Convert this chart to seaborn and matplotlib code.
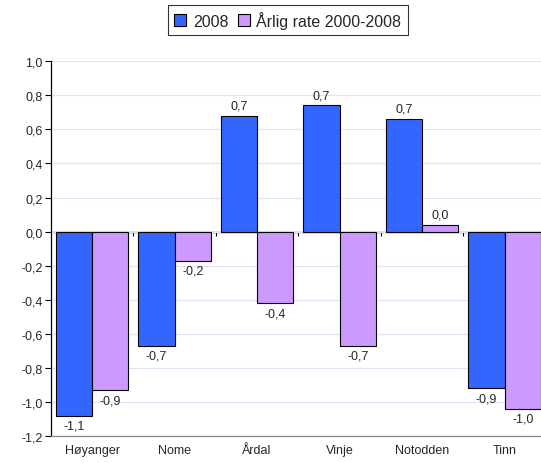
import matplotlib
matplotlib.use("Agg")
import matplotlib.pyplot as plt
import seaborn as sns
import pandas as pd
import numpy as np

# Data
steder = ["Høyanger", "Nome", "Årdal", "Vinje", "Notodden", "Tinn"]
v2008 = [-1.08, -0.67, 0.68, 0.74, 0.66, -0.92]
rate = [-0.93, -0.17, -0.42, -0.67, 0.04, -1.04]
serier = ["2008", "Årlig rate 2000-2008"]
yticks = [-1.2, -1.0, -0.8, -0.6, -0.4, -0.2, 0.0, 0.2, 0.4, 0.6, 0.8, 1.0]

df = pd.DataFrame({"Sted": steder, serier[0]: v2008, serier[1]: rate})
long = df.melt(id_vars="Sted", var_name="Serie", value_name="Verdi")

sns.set_style("white")
plt.rcParams["font.family"] = ["Liberation Sans", "DejaVu Sans"]

fig = plt.figure(figsize=(5.41, 4.64), dpi=100)
ax = fig.add_axes([0.094, 0.058, 0.915, 0.808])

sns.barplot(
    data=long, x="Sted", y="Verdi", hue="Serie", order=steder,
    palette=["#3366FF", "#CC99FF"], width=0.88, gap=0,
    edgecolor="black", linewidth=0.8, saturation=1, ax=ax, zorder=3,
)

def fmt(v):
    return f"{v:.1f}".replace(".", ",")

for cont, vals in zip(ax.containers, [v2008, rate]):
    ax.bar_label(cont, labels=[fmt(v) for v in vals], padding=3, fontsize=9)

ax.set_ylim(-1.2, 1.0)
ax.set_xlim(-0.5, len(steder) - 0.5)
ax.set_yticks(yticks)
ax.set_yticklabels([fmt(t) for t in yticks], fontsize=9)
ax.tick_params(axis="y", length=4, width=0.8, color="black", pad=2, left=True)
ax.tick_params(axis="x", length=0, labelsize=9, pad=6)
ax.yaxis.grid(True, color="#E2E2F6", linewidth=0.9, zorder=0)
ax.set_axisbelow(True)
ax.set_xlabel("")
ax.set_ylabel("")

for s in ["top", "right"]:
    ax.spines[s].set_visible(False)
ax.spines["left"].set_color("black")
ax.spines["left"].set_linewidth(0.9)
ax.spines["bottom"].set_color("#888888")
ax.spines["bottom"].set_linewidth(0.9)

# zero line with category boundary ticks
sec = ax.secondary_xaxis(0, transform=ax.transData)
sec.set_xticks(np.arange(0.5, len(steder) - 0.5, 1.0))
sec.set_xticklabels([])
sec.tick_params(length=3, width=0.8, color="black", direction="out")
sec.spines["bottom"].set_color("black")
sec.spines["bottom"].set_linewidth(0.9)

handles, labels = ax.get_legend_handles_labels()
ax.legend(
    handles, labels, loc="center", bbox_to_anchor=(0.532, 0.955),
    bbox_transform=fig.transFigure, ncol=2, frameon=True, fancybox=False,
    edgecolor="black", fontsize=11.5, handlelength=0.75, handleheight=0.75,
    handletextpad=0.4, columnspacing=0.6, borderpad=0.4,
)
ax.get_legend().get_frame().set_linewidth(0.8)

fig.savefig("out.png", dpi=100)
